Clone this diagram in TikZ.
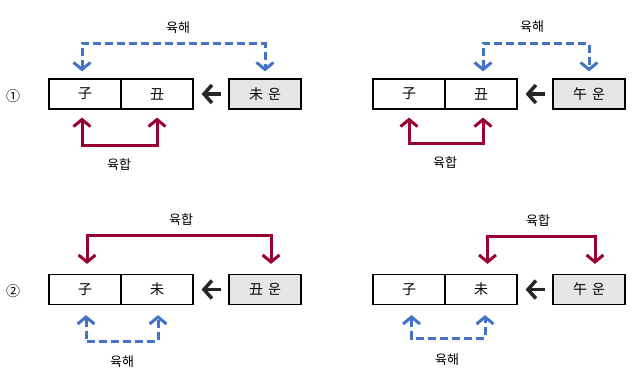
\documentclass[tikz,border=0pt]{standalone}
\usepackage{fontspec}
\setmainfont{Noto Sans CJK KR}
\usetikzlibrary{arrows.meta,calc}
\definecolor{hblue}{RGB}{68,114,196}
\definecolor{hred}{RGB}{153,0,51}
\definecolor{hgray}{RGB}{230,230,230}
\definecolor{hblack}{RGB}{38,38,38}
\newcommand{\lucktext}[2]{#1\hspace{5pt}#2}
\begin{document}
\begin{tikzpicture}[x=1pt,y=1pt,
  cell/.style={draw=black, line width=1.2pt, minimum width=72pt, minimum height=30pt, inner sep=0pt, font=\fontsize{14}{14}\selectfont},
  luck/.style={cell, fill=hgray},
  lbl/.style={font=\fontsize{13}{13}\selectfont, inner sep=0pt},
  num/.style={font=\fontsize{14}{14}\selectfont, inner sep=0pt},
  hae/.style={hblue, line width=3pt, dash pattern=on 8pt off 4pt, {Straight Barb[length=7pt,width=17pt]}-{Straight Barb[length=7pt,width=17pt]}},
  hap/.style={hred, line width=3pt, {Straight Barb[length=7pt,width=17pt]}-{Straight Barb[length=7pt,width=17pt]}},
  flow/.style={hblack, line width=3.5pt, -{Straight Barb[length=8pt,width=18pt]}}]
\useasboundingbox (0,0) rectangle (639,381);

% Row 1 left
\node[num] (n1) at (13,285) {①};
\node[cell] (a1) at (85,287) {子};
\node[cell] (b1) at (157,287) {丑};
\node[luck] (g1) at (265,287) {\lucktext{未}{운}};
\draw[flow] ($(g1.west)+(-7,0)$) -- ($(b1.east)+(8,0)$);
\draw[hae] ($(a1.north)+(-3,7)$) |- ($(g1.north)+(0,35)$) -- ($(g1.north)+(0,7)$);
\draw[hap] ($(a1.south)+(-3,-8)$) |- ($(b1.south)+(0,-36)$) -- ($(b1.south)+(0,-8)$);
\node[lbl] (t1) at (178,353) {육해};
\node[lbl] (u1) at (119,216) {육합};

% Row 1 right
\node[cell] (a2) at (409,287) {子};
\node[cell] (b2) at (481,287) {丑};
\node[luck] (g2) at (589,287) {\lucktext{午}{운}};
\draw[flow] ($(g2.west)+(-7,0)$) -- ($(b2.east)+(8,0)$);
\draw[hae] ($(b2.north)+(2,7)$) |- ($(g2.north)+(0,35)$) -- ($(g2.north)+(0,7)$);
\draw[hap] ($(a2.south)+(0,-8)$) |- ($(b2.south)+(2,-34)$) -- ($(b2.south)+(2,-8)$);
\node[lbl] (t2) at (532,354) {육해};
\node[lbl] (u2) at (445,218) {육합};

% Row 2 left
\node[num] (n2) at (13,90) {②};
\node[cell] (a3) at (85,91.5) {子};
\node[cell] (b3) at (157,91.5) {未};
\node[luck] (g3) at (265,91.5) {\lucktext{丑}{운}};
\draw[flow] ($(g3.west)+(-7,0)$) -- ($(b3.east)+(8,0)$);
\draw[hap] ($(a3.north)+(2,10)$) |- ($(g3.north)+(6,38)$) -- ($(g3.north)+(6,10)$);
\draw[hae] ($(a3.south)+(1,-10)$) |- ($(b3.south)+(1,-36)$) -- ($(b3.south)+(1,-10)$);
\node[lbl] (t3) at (181,161) {육합};
\node[lbl] (u3) at (122,19.5) {육해};

% Row 2 right
\node[cell] (a4) at (409,91.5) {子};
\node[cell] (b4) at (481,91.5) {未};
\node[luck] (g4) at (589,91.5) {\lucktext{午}{운}};
\draw[flow] ($(g4.west)+(-7,0)$) -- ($(b4.east)+(8,0)$);
\draw[hap] ($(b4.north)+(6.5,10)$) |- ($(g4.north)+(6,37)$) -- ($(g4.north)+(6,10)$);
\draw[hae] ($(a4.south)+(2.5,-10)$) |- ($(b4.south)+(4,-33)$) -- ($(b4.south)+(4,-10)$);
\node[lbl] (t4) at (538,160) {육합};
\node[lbl] (u4) at (447,21) {육해};
\end{tikzpicture}
\end{document}
